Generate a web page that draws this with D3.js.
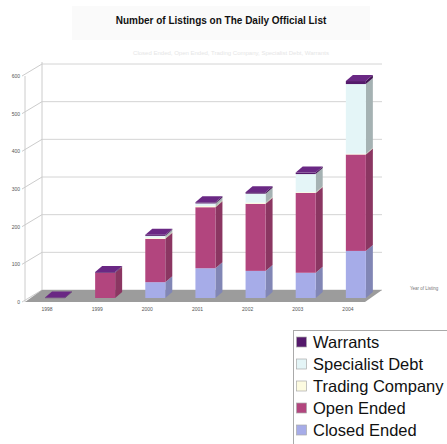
<!DOCTYPE html>
<html><head><meta charset="utf-8">
<script src="https://cdn.jsdelivr.net/npm/d3@7"></script>
<style>body{margin:0;background:#fff}svg{display:block}</style>
</head><body><div id="chart"></div>
<script>
const years = ["1998","1999","2000","2001","2002","2003","2004"];
const closedEnded     = [0, 0, 42, 79, 72, 67, 125];
const openEnded       = [0, 67, 115, 162, 178, 212, 256];
const tradingCompany  = [0, 0, 3, 3, 3, 2, 2];
const specialistDebt  = [0, 0, 5, 7, 24, 48, 185];
const warrants        = [1, 2, 3, 3, 4, 4, 8];
const yTicks = [0,100,200,300,400,500,600];
const seriesNames = ["Closed Ended","Open Ended","Trading Company","Specialist Debt","Warrants"];
const seriesColors = ["#a6ace8","#b2457e","#fdfbe0","#e4f5f7","#54196b"];

const W=447,H=444;
const svg=d3.select("#chart").append("svg").attr("width",W).attr("height",H);

// title
svg.append("rect").attr("x",72).attr("y",6).attr("width",298).attr("height",34).attr("fill","#fafafa");
svg.append("text").attr("x",221).attr("y",24).attr("text-anchor","middle")
  .attr("font-family","Liberation Sans, Arial, sans-serif").attr("font-weight","bold")
  .attr("font-size",10).attr("fill","#111").text("Number of Listings on The Daily Official List");
svg.append("text").attr("x",231).attr("y",55).attr("text-anchor","middle")
  .attr("font-family","Liberation Sans, Arial, sans-serif").attr("font-size",6)
  .attr("fill","#e6e6e6").text("Closed Ended, Open Ended, Trading Company, Specialist Debt, Warrants");

const y=d3.scaleLinear().domain([0,600]).range([302,76]);
const backDx=17, backDy=-12;
const x=d3.scaleBand().domain(years).range([30,381]);
const barW=20, barOff=15, bDx=7, bDy=6, frontUp=4;

const g=svg.append("g");
g.selectAll(".grid").data(yTicks).join("line")
  .attr("x1",25+backDx).attr("x2",382).attr("y1",d=>y(d)+backDy).attr("y2",d=>y(d)+backDy)
  .attr("stroke","#d4d4d4").attr("stroke-width",1);
g.append("line").attr("x1",25+backDx).attr("x2",25+backDx).attr("y1",y(0)+backDy).attr("y2",y(600)+backDy-2).attr("stroke","#ccc");
g.append("line").attr("x1",25).attr("x2",25).attr("y1",y(0)).attr("y2",y(600)).attr("stroke","#ccc");
g.selectAll(".lead").data(yTicks).join("line")
  .attr("x1",22).attr("y1",d=>y(d)).attr("x2",25+backDx).attr("y2",d=>y(d)+backDy)
  .attr("stroke","#ccc");
g.selectAll(".yl").data(yTicks).join("text")
  .attr("x",20).attr("y",d=>y(d)+2).attr("text-anchor","end")
  .attr("font-family","Liberation Sans, Arial, sans-serif").attr("font-size",5).attr("fill","#555")
  .text(d=>d);

const fl=[[25,y(0)],[25+backDx,y(0)+backDy],[382,y(0)+backDy],[365,y(0)]];
g.append("polygon").attr("points",fl.map(p=>p.join(",")).join(" ")).attr("fill","#9c9c9c");

const series=[closedEnded,openEnded,tradingCompany,specialistDebt,warrants];
years.forEach((yr,i)=>{
  const x0=x(yr)+barOff;
  let cum=0;
  const yb=v=>y(v)-frontUp;
  series.forEach((s,k)=>{
    const v=s[i]; if(!v) return;
    const y0=yb(cum), y1=yb(cum+v);
    const c=d3.color(seriesColors[k]);
    g.append("polygon").attr("points",[[x0+barW,y1],[x0+barW+bDx,y1-bDy],[x0+barW+bDx,y0-bDy],[x0+barW,y0]].map(p=>p.join(",")).join(" "))
      .attr("fill",c.darker(k===3||k===2?0.9:0.7));
    g.append("rect").attr("x",x0).attr("y",y1).attr("width",barW).attr("height",Math.max(0.5,y0-y1))
      .attr("fill",c);
    cum+=v;
  });
  const yt=yb(cum);
  g.append("polygon").attr("points",[[x0,yt],[x0+bDx,yt-bDy],[x0+barW+bDx,yt-bDy],[x0+barW,yt]].map(p=>p.join(",")).join(" "))
    .attr("fill","#6a2884");
});

g.selectAll(".xl").data(years).join("text")
  .attr("x",d=>x(d)+x.bandwidth()/2-8).attr("y",311).attr("text-anchor","middle")
  .attr("font-family","Liberation Sans, Arial, sans-serif").attr("font-size",5).attr("fill","#555")
  .text(d=>d);
svg.append("text").attr("x",410).attr("y",290)
  .attr("font-family","Liberation Sans, Arial, sans-serif").attr("font-size",4.5).attr("fill","#777")
  .text("Year of Listing");

const lg=svg.append("g");
lg.append("rect").attr("x",293.5).attr("y",330.5).attr("width",170).attr("height",130)
  .attr("fill","#fff").attr("stroke","#aaa");
const legOrder=[4,3,2,1,0];
legOrder.forEach((k,j)=>{
  const yy=342+j*22;
  lg.append("rect").attr("x",296.5).attr("y",yy-5).attr("width",10).attr("height",10)
    .attr("fill",seriesColors[k]).attr("stroke","#aaa").attr("stroke-width",0.7);
  lg.append("text").attr("x",313).attr("y",yy+6)
    .attr("font-family","Liberation Sans, Arial, sans-serif").attr("font-size",16.5).attr("fill","#111")
    .text(seriesNames[k]);
});
</script></body></html>
